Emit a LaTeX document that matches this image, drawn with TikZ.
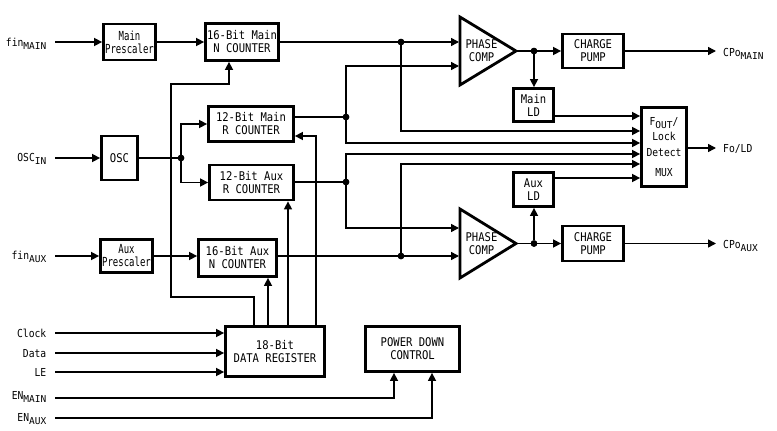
\documentclass[tikz,border=0pt]{standalone}
\usepackage{fontspec}
\usetikzlibrary{arrows.meta}
\newfontfamily\dgfont[FakeStretch=0.88]{DejaVu Sans Mono}
\newfontfamily\dgnarrow[FakeStretch=0.72]{DejaVu Sans Mono}
\newfontfamily\dgsub{DejaVu Sans Mono}
\newcommand\bxf{\dgfont\fontsize{12}{13}\selectfont}
\newcommand\psf{\dgnarrow\fontsize{12.5}{13}\selectfont}
\newcommand\lbf{\dgfont\fontsize{11}{13}\selectfont}
\newcommand\muxf{\dgfont\fontsize{11}{15.5}\selectfont}
\newcommand\sbs[1]{\raisebox{-3pt}{\dgsub\fontsize{9.5}{11}\selectfont #1}}
\begin{document}
\begin{tikzpicture}[x=1pt,y=-1pt,
  box/.style={draw, line width=2.8pt, inner sep=0pt, align=center, font=\bxf},
  wire/.style={line width=1.5pt},
  arr/.style={wire, -{Triangle[length=8pt,width=8pt]}},
  dot/.style={circle, fill, inner sep=0pt, minimum size=6.5pt},
  lbl/.style={inner sep=0pt, font=\lbf},
  tri/.style={line width=2.8pt, line join=miter}]
\fill[white] (0,0) rectangle (777,431);
\useasboundingbox (0,0) rectangle (777,431);

% boxes
\node[box, font=\psf, minimum width=52pt, minimum height=36pt] (mpre) at (129.5,42) {Main\\Prescaler};
\node[box, minimum width=73pt, minimum height=37pt] (mncnt) at (242,42) {16-Bit Main\\N COUNTER};
\node[box, minimum width=85pt, minimum height=35pt] (mrcnt) at (251,124) {12-Bit Main\\R COUNTER};
\node[box, minimum width=84pt, minimum height=35pt] (arcnt) at (251.5,182.5) {12-Bit Aux\\R COUNTER};
\node[box, minimum width=36pt, minimum height=44pt] (osc) at (119.5,158) {OSC};
\node[box, font=\psf, minimum width=52pt, minimum height=33pt] (apre) at (126.5,256) {Aux\\Prescaler};
\node[box, minimum width=78pt, minimum height=37pt] (ancnt) at (237.5,258) {16-Bit Aux\\N COUNTER};
\node[box, minimum width=99pt, minimum height=50pt] (dreg) at (275,351.5) {18-Bit\\DATA REGISTER};
\node[box, minimum width=94pt, minimum height=45pt] (pdc) at (412.5,349) {POWER DOWN\\CONTROL};
\node[box, minimum width=61pt, minimum height=34pt] (mcp) at (593,51) {CHARGE\\PUMP};
\node[box, minimum width=61pt, minimum height=35pt] (acp) at (593,243.5) {CHARGE\\PUMP};
\node[box, minimum width=40pt, minimum height=33pt] (mld) at (533.5,105) {Main\\LD};
\node[box, minimum width=40pt, minimum height=34pt] (ald) at (533.5,189.5) {Aux\\LD};
\node[box, font=\muxf, minimum width=45pt, minimum height=79pt] (mux) at (664,147) {F\sbs{OUT}/\\Lock\\Detect\\[5pt]MUX};

% phase comparators
\draw[tri] (460,17) -- (516,51) -- (460,85) -- cycle;
\node[inner sep=0pt, align=center, font=\bxf] (pmt) at (481.5,51) {PHASE\\COMP};
\draw[tri] (460,209) -- (516,243.5) -- (460,278) -- cycle;
\node[inner sep=0pt, align=center, font=\bxf] (pat) at (481.5,243.5) {PHASE\\COMP};
\coordinate (pm1) at (459,42);
\coordinate (pm2) at (459,66);
\coordinate (pmo) at (516,51);
\coordinate (pa1) at (459,228);
\coordinate (pa2) at (459,256);
\coordinate (pao) at (516,243.5);

% mux input ports
\coordinate (mi1) at (mux.west |- 0,116);
\coordinate (mi2) at (mux.west |- 0,131);
\coordinate (mi3) at (mux.west |- 0,143);
\coordinate (mi4) at (mux.west |- 0,154);
\coordinate (mi5) at (mux.west |- 0,164);
\coordinate (mi6) at (mux.west |- 0,178);

% labels
\node[lbl, anchor=base east] (tfm) at (46.5,46.7) {fin\sbs{MAIN}};
\node[lbl, anchor=base east] (tosc) at (46.5,161.7) {OSC\sbs{IN}};
\node[lbl, anchor=base east] (tfa) at (46.5,259.5) {fin\sbs{AUX}};
\node[lbl, anchor=base east] (tclk) at (46.5,337) {Clock};
\node[lbl, anchor=base east] (tdat) at (46.5,357) {Data};
\node[lbl, anchor=base east] (tle) at (46.5,376) {LE};
\node[lbl, anchor=base east] (tenm) at (46.5,399.5) {EN\sbs{MAIN}};
\node[lbl, anchor=base east] (tena) at (46.5,421) {EN\sbs{AUX}};
\node[lbl, anchor=base west] (tcpm) at (723,56) {CPo\sbs{MAIN}};
\node[lbl, anchor=base west] (tfo) at (723,152) {Fo/LD};
\node[lbl, anchor=base west] (tcpa) at (723,248.3) {CPo\sbs{AUX}};

\coordinate (cfm) at (55,42);
\coordinate (cosc) at (55,158);
\coordinate (cfa) at (55,256);
\coordinate (cclk) at (55,333);
\coordinate (cdat) at (55,353);
\coordinate (cle) at (55,372);
\coordinate (cenm) at (55,398);
\coordinate (cena) at (55,418);
\coordinate (ocpm) at (716,51);
\coordinate (ofo) at (716,148);
\coordinate (ocpa) at (716,243.5);

% dots
\node[dot] (dNm) at (401,42) {};
\node[dot] (dNa) at (401,256) {};
\node[dot] (dRm) at (346,117) {};
\node[dot] (dRa) at (346,182) {};
\node[dot] (dosc) at (181,158) {};
\node[dot] (dpm) at (534,51) {};
\node[dot] (dpa) at (534,243.5) {};

% left inputs
\draw[arr] (cfm) -- (mpre.west);
\draw[arr] (mpre) -- (mncnt);
\draw[arr] (cosc) -- (osc.west);
\draw[wire] (osc.east) -- (dosc);
\draw[arr] (dosc) |- (mrcnt.west);
\draw[arr] (dosc) |- (arcnt.west);
\draw[arr] (cfa) -- (apre.west);
\draw[arr] (apre.east) -- (apre.east -| ancnt.west);
\draw[arr] (cclk) -- (cclk -| dreg.west);
\draw[arr] (cdat) -- (cdat -| dreg.west);
\draw[arr] (cle) -- (cle -| dreg.west);
\draw[arr] (cenm) -| (pdc.south -| 394,0);
\draw[arr] (cena) -| (pdc.south -| 432,0);

% data register outputs
\draw[arr] (dreg.north -| 254,0) |- (171,297) |- (229,84) -- (mncnt.south -| 229,0);
\draw[arr] (dreg.north -| 268,0) -- (ancnt.south -| 268,0);
\draw[arr] (dreg.north -| 288,0) -- (arcnt.south -| 288,0);
\draw[arr] (dreg.north -| 316,0) |- (mrcnt.east |- 0,136);

% counters to phase comps and mux
\draw[wire] (mncnt.east) -- (dNm);
\draw[arr] (dNm) -- (pm1);
\draw[arr] (dNm) |- (mi2);
\draw[wire] (mrcnt.east |- dRm) -- (dRm);
\draw[arr] (dRm) |- (pm2);
\draw[arr] (dRm) |- (mi3);
\draw[wire] (arcnt.east |- dRa) -- (dRa);
\draw[arr] (dRa) |- (mi4);
\draw[arr] (dRa) |- (pa1);
\draw[wire] (ancnt.east |- dNa) -- (dNa);
\draw[arr] (dNa) -- (pa2);
\draw[arr] (dNa) |- (mi5);

% outputs
\draw[wire] (pmo) -- (dpm);
\draw[arr] (dpm) -- (mcp.west |- dpm);
\draw[arr] (dpm) -- (dpm |- mld.north);
\draw[arr] (mld.east |- mi1) -- (mi1);
\draw[arr] (ald.east |- mi6) -- (mi6);
\draw[wire] (pao) -- (dpa);
\draw[arr] (dpa) -- (acp.west |- dpa);
\draw[arr] (dpa) -- (dpa |- ald.south);
\draw[arr] (mcp.east) -- (ocpm);
\draw[arr] (acp.east) -- (ocpa);
\draw[arr] (mux.east |- ofo) -- (ofo);

% redraw dots on top
\foreach \d in {dNm,dNa,dRm,dRa,dosc,dpm,dpa} \fill (\d) circle (3.25pt);
\end{tikzpicture}
\end{document}
